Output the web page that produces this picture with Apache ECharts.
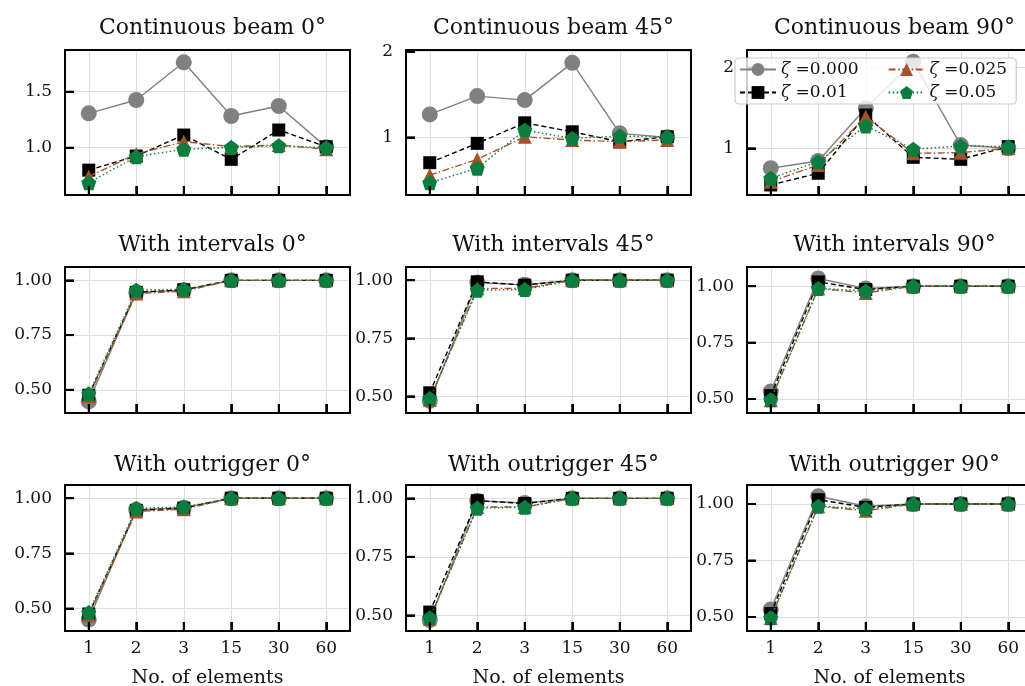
<!DOCTYPE html>
<html>
<head>
<meta charset="utf-8">
<script src="https://cdn.jsdelivr.net/npm/echarts@6/dist/echarts.min.js"></script>
<style>
html,body{margin:0;padding:0;background:#fff;}
#chart{width:1025px;height:686px;}
</style>
</head>
<body>
<div id="chart"></div>
<script>
// ---- data ----
const categories = ['1', '2', '3', '15', '30', '60'];
const seriesNames = ['ζ =0.000', 'ζ =0.01', 'ζ =0.025', 'ζ =0.05'];
const panelTitles = [
  'Continuous beam 0°', 'Continuous beam 45°', 'Continuous beam 90°',
  'With intervals 0°', 'With intervals 45°', 'With intervals 90°',
  'With outrigger 0°', 'With outrigger 45°', 'With outrigger 90°'
];
// each panel: [zeta 0.000, zeta 0.01, zeta 0.025, zeta 0.05]
const beam0 = [
  [1.307, 1.426, 1.762, 1.283, 1.372, 1.005],
  [0.800, 0.926, 1.113, 0.896, 1.158, 1.009],
  [0.741, 0.944, 1.054, 1.010, 1.024, 0.986],
  [0.688, 0.920, 0.986, 1.003, 1.018, 1.000]
];
const beam45 = [
  [1.268, 1.482, 1.435, 1.870, 1.047, 1.000],
  [0.704, 0.930, 1.170, 1.065, 0.949, 1.007],
  [0.560, 0.743, 1.007, 0.968, 0.950, 0.970],
  [0.470, 0.638, 1.085, 0.988, 1.015, 1.007]
];
const beam90 = [
  [0.752, 0.842, 1.496, 2.075, 1.040, 1.000],
  [0.545, 0.690, 1.413, 0.888, 0.863, 1.020],
  [0.586, 0.793, 1.392, 0.938, 0.946, 1.000],
  [0.628, 0.834, 1.277, 0.988, 1.029, 1.020]
];
const intervals0 = [
  [0.447, 0.945, 0.955, 1.000, 1.000, 1.000],
  [0.475, 0.945, 0.957, 1.000, 1.000, 1.000],
  [0.470, 0.940, 0.950, 1.000, 1.000, 1.000],
  [0.482, 0.955, 0.959, 1.000, 1.000, 1.000]
];
const intervals45 = [
  [0.480, 0.990, 0.980, 1.000, 1.000, 1.000],
  [0.515, 0.993, 0.979, 1.000, 1.000, 1.000],
  [0.485, 0.965, 0.965, 1.000, 1.000, 1.000],
  [0.490, 0.957, 0.960, 1.000, 1.000, 1.000]
];
const intervals90 = [
  [0.533, 1.034, 0.990, 1.000, 1.000, 1.000],
  [0.515, 1.019, 0.985, 1.000, 1.000, 1.000],
  [0.495, 0.990, 0.970, 1.000, 1.000, 1.000],
  [0.497, 0.990, 0.979, 1.000, 1.000, 1.000]
];
const outrigger0 = [
  [0.450, 0.948, 0.957, 1.000, 1.000, 1.000],
  [0.475, 0.945, 0.955, 1.000, 1.000, 1.000],
  [0.470, 0.940, 0.950, 1.000, 1.000, 1.000],
  [0.482, 0.955, 0.960, 1.000, 1.000, 1.000]
];
const outrigger45 = [
  [0.480, 0.990, 0.980, 1.000, 1.000, 1.000],
  [0.514, 0.990, 0.978, 1.000, 1.000, 1.000],
  [0.485, 0.963, 0.963, 1.000, 1.000, 1.000],
  [0.490, 0.958, 0.962, 1.000, 1.000, 1.000]
];
const outrigger90 = [
  [0.533, 1.034, 0.990, 1.000, 1.000, 1.000],
  [0.515, 1.019, 0.985, 1.000, 1.000, 1.000],
  [0.495, 0.990, 0.970, 1.000, 1.000, 1.000],
  [0.497, 0.990, 0.979, 1.000, 1.000, 1.000]
];
const yTickValues = [
  [1.0, 1.5], [1, 2], [1, 2],
  [0.5, 0.75, 1.0], [0.5, 0.75, 1.0], [0.5, 0.75, 1.0],
  [0.5, 0.75, 1.0], [0.5, 0.75, 1.0], [0.5, 0.75, 1.0]
];
const yTickLabels = [
  ['1.0', '1.5'], ['1', '2'], ['1', '2'],
  ['0.50', '0.75', '1.00'], ['0.50', '0.75', '1.00'], ['0.50', '0.75', '1.00'],
  ['0.50', '0.75', '1.00'], ['0.50', '0.75', '1.00'], ['0.50', '0.75', '1.00']
];
const panels = [beam0, beam45, beam90, intervals0, intervals45, intervals90, outrigger0, outrigger45, outrigger90];

// ---- layout / style ----
const FONT = 'DejaVu Serif';
const colLeft = [65, 406, 747];
const colWidth = 285;
const rowTop = [50, 267, 485];
const rowHeight = [145, 146, 146];
const titleCenterY = [25, 242, 462];
const TICK = 9;
const yRange = [
  [0.578, 1.872], [0.327, 2.02], [0.42, 2.22],
  [0.394, 1.061], [0.428, 1.057], [0.438, 1.085],
  [0.398, 1.06], [0.433, 1.057], [0.438, 1.084]
];
const pentagon = 'path://M0,-1L0.951,-0.309L0.588,0.809L-0.588,0.809L-0.951,-0.309Z';
const seriesStyle = [
  {color: '#808080', symbol: 'circle', size: 16, line: 'solid'},
  {color: '#000000', symbol: 'rect', size: 13, line: [5, 3]},
  {color: '#a5522a', symbol: 'triangle', size: 14, line: [7, 2.5, 1.5, 2.5]},
  {color: '#0b7d3e', symbol: pentagon, size: 15, line: [1.5, 2.5]}
];

const grids = [], xAxes = [], yAxes = [], series = [], titles = [];
const xIdx = () => categories.map((c, i) => i);
const frameLine = () => ({show: true, onZero: false, lineStyle: {color: '#000', width: 1.8}});
const gridLine = () => ({show: true, lineStyle: {color: '#dddddd', width: 1}});
const xRich = {
  t: {width: 2, height: TICK, lineHeight: TICK, backgroundColor: '#000'},
  g: {height: 8, lineHeight: 8},
  v: {fontFamily: FONT, fontSize: 17, lineHeight: 20, color: '#111'}
};
const yRich = {
  v: {fontFamily: FONT, fontSize: 17, color: '#111'},
  g: {width: 13},
  t: {width: TICK, height: 2, backgroundColor: '#000', verticalAlign: 'middle'}
};
panels.forEach((panel, p) => {
  const r = Math.floor(p / 3), c = p % 3;
  grids.push({
    left: colLeft[c], top: rowTop[r], width: colWidth, height: rowHeight[r],
    show: true, borderColor: '#000', borderWidth: 1.8,
    outerBoundsMode: 'none', containLabel: false
  });
  titles.push({
    text: panelTitles[p], left: colLeft[c] + colWidth / 2, top: titleCenterY[r] - 13,
    textAlign: 'center',
    textStyle: {fontFamily: FONT, fontSize: 22, fontWeight: 'normal', color: '#111'}
  });
  const bottom = r === 2;
  xAxes.push({
    type: 'value', gridIndex: p, min: -0.5, max: 5.5, position: 'bottom', zlevel: 1, z: 10,
    axisLine: frameLine(),
    axisTick: {show: true, inside: true, length: TICK, customValues: xIdx(), lineStyle: {color: '#000', width: 2}},
    axisLabel: {show: true, customValues: xIdx(), margin: -TICK, align: 'center', verticalAlign: 'top',
      formatter: v => bottom ? '{t|}\n{g|}\n{v|' + categories[Math.round(v)] + '}' : '{t|}',
      rich: xRich},
    splitLine: {show: false},
    name: bottom ? 'No. of elements' : '', nameLocation: 'middle', nameGap: 38, nameMoveOverlap: false,
    nameTextStyle: {fontFamily: FONT, fontSize: 19, color: '#111'}
  });
  xAxes.push({
    type: 'value', gridIndex: p, min: -0.5, max: 5.5, position: 'top', z: 0,
    axisLine: frameLine(),
    axisTick: {show: false, customValues: xIdx()},
    axisLabel: {show: false, customValues: xIdx()},
    splitLine: gridLine()
  });
  const tl = yTickLabels[p];
  yAxes.push({
    type: 'value', gridIndex: p, min: yRange[p][0], max: yRange[p][1], position: 'left', zlevel: 1, z: 10,
    axisLine: frameLine(),
    axisTick: {show: true, inside: true, length: TICK, customValues: yTickValues[p].slice(), lineStyle: {color: '#000', width: 2}},
    axisLabel: {show: true, customValues: yTickValues[p].slice(), margin: -TICK, align: 'right',
      formatter: v => { const k = yTickValues[p].findIndex(t => Math.abs(t - v) < 1e-6); return '{v|' + (k >= 0 ? tl[k] : '') + '}{g|}{t|}'; },
      rich: yRich},
    splitLine: {show: false}
  });
  yAxes.push({
    type: 'value', gridIndex: p, min: yRange[p][0], max: yRange[p][1], position: 'right', z: 0,
    axisLine: frameLine(),
    axisTick: {show: false, customValues: yTickValues[p].slice()},
    axisLabel: {show: false, customValues: yTickValues[p].slice()},
    splitLine: gridLine()
  });
  panel.forEach((vals, s) => {
    const st = seriesStyle[s];
    series.push({
      name: seriesNames[s], type: 'line', xAxisIndex: 2 * p, yAxisIndex: 2 * p,
      data: vals.map((v, i) => [i, v]),
      symbol: st.symbol, symbolSize: st.size, showSymbol: true,
      itemStyle: {color: st.color},
      lineStyle: {color: st.color, width: 1.4, type: st.line},
      z: 4 + s
    });
  });
});

const chart = echarts.init(document.getElementById('chart'));
chart.setOption({
  animation: false,
  title: titles,
  grid: grids,
  xAxis: xAxes,
  yAxis: yAxes,
  legend: {
    left: 735, top: 58, orient: 'horizontal', width: 290, zlevel: 1, z: 20,
    data: [seriesNames[0], seriesNames[2], seriesNames[1], seriesNames[3]],
    itemWidth: 36, itemHeight: 16, itemGap: 4,
    padding: [2, 4, 2, 4],
    backgroundColor: 'rgba(255,255,255,0.8)', borderColor: '#cccccc', borderWidth: 1.2, borderRadius: 4,
    formatter: function (name) {
      const rest = name.replace('ζ ', '');
      const col2 = name === seriesNames[2] || name === seriesNames[3];
      return '{z|ζ} {' + (col2 ? 'b' : 'a') + '|' + rest + '}';
    },
    textStyle: {
      fontFamily: FONT, fontSize: 17, color: '#111', lineHeight: 19,
      rich: {
        z: {fontFamily: FONT, fontSize: 17, fontStyle: 'italic', color: '#111'},
        a: {fontFamily: FONT, fontSize: 17, color: '#111', width: 88},
        b: {fontFamily: FONT, fontSize: 17, color: '#111', width: 68}
      }
    }
  },
  series: series
});
</script>
</body>
</html>
